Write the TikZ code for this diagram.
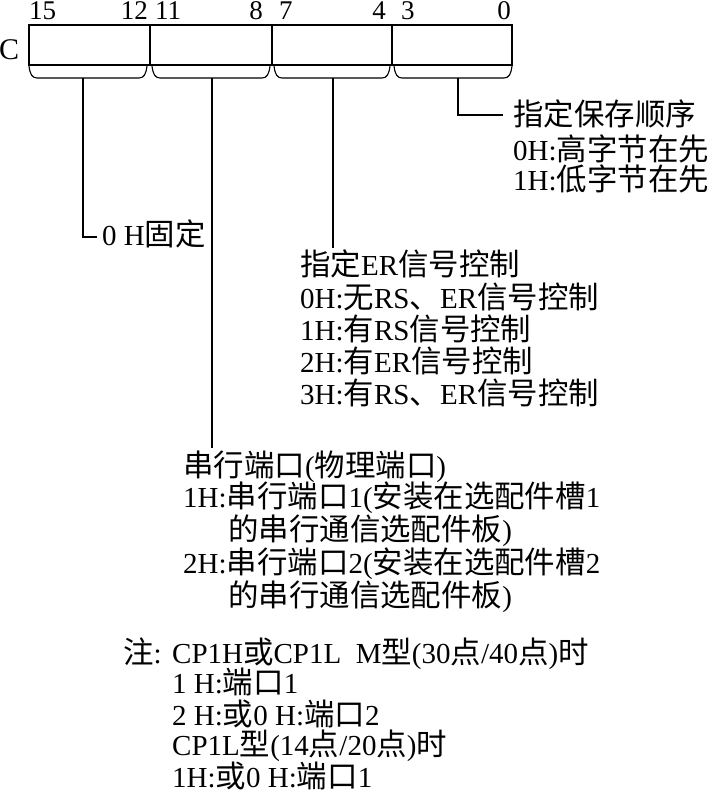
\documentclass[tikz,border=0pt]{standalone}
\usepackage{fontspec}
\setmainfont{Liberation Serif}
\newfontfamily\cjk[Scale=1.05]{Noto Sans CJK SC}
\newcommand\zh[1]{{\cjk #1}}
\usetikzlibrary{calc}
\begin{document}
\begin{tikzpicture}[x=1pt,y=-1pt,
  txt/.style={anchor=base west,inner sep=0pt,font=\fontsize{29}{30}\selectfont},
  bitl/.style={inner sep=0pt,font=\fontsize{27}{27}\selectfont},
  field/.style={draw,line width=1.2pt,minimum height=40pt,inner sep=0pt,outer sep=0pt},
  conn/.style={line width=1.1pt},
  bracepath/.style={line width=1.1pt}]
\useasboundingbox (0,0) rectangle (708,799);

% register fields
\node[field,minimum width=121pt] (f1) at (89.5,45) {};
\node[field,minimum width=122pt] (f2) at (211,45) {};
\node[field,minimum width=120pt] (f3) at (332,45) {};
\node[field,minimum width=120pt] (f4) at (452,45) {};
\node[anchor=base west,inner sep=0pt,font=\fontsize{30}{30}\selectfont] (c) at (-1,60) {C};

% bit numbers
\node[bitl,anchor=base west] (n15) at (29,20) {15};
\node[bitl,anchor=base east] (n12) at (148,20) {12};
\node[bitl,anchor=base west] (n11) at (155,20) {11};
\node[bitl,anchor=base east] (n8) at (263,20) {8};
\node[bitl,anchor=base west] (n7) at (279,20) {7};
\node[bitl,anchor=base east] (n4) at (386,20) {4};
\node[bitl,anchor=base west] (n3) at (401,20) {3};
\node[bitl,anchor=base east] (n0) at (511,20) {0};

% braces
\foreach \xa/\xb in {29/147,152/270,274/390,394/512}{
  \draw[bracepath] (\xa,66) .. controls (\xa+1,74) and (\xa+3,78) .. (\xa+8,78)
    -- (\xb-8,78) .. controls (\xb-3,78) and (\xb-1,74) .. (\xb,66);
}
\coordinate (b1) at (83,78);
\coordinate (b2) at (212,78);
\coordinate (b3) at (333,78);
\coordinate (b4) at (458,78);

% block A
\node[txt] (a1) at (513,126) {\zh{指定保存顺序}};
\node[txt] (a2) at (513,161) {0H:\zh{高字节在先}};
\node[txt] (a3) at (513,191) {1H:\zh{低字节在先}};

% fixed
\node[txt] (z) at (102,246) {0~H\zh{固定}};

% block B
\node[txt] (b1t) at (300,276) {\zh{指定}ER\zh{信号控制}};
\node[txt] (b2t) at (300,308) {0H:\zh{无}RS\zh{、}ER\zh{信号控制}};
\node[txt] (b3t) at (300,340) {1H:\zh{有}RS\zh{信号控制}};
\node[txt] (b4t) at (300,372) {2H:\zh{有}ER\zh{信号控制}};
\node[txt] (b5t) at (300,404) {3H:\zh{有}RS\zh{、}ER\zh{信号控制}};

% block C
\node[txt] (c1t) at (183,476) {\zh{串行端口}(\zh{物理端口})};
\node[txt] (c2t) at (183,507) {1H:\zh{串行端口}1(\zh{安装在选配件槽}1};
\node[txt] (c3t) at (228,540) {\zh{的串行通信选配件板})};
\node[txt] (c4t) at (183,573) {2H:\zh{串行端口}2(\zh{安装在选配件槽}2};
\node[txt] (c5t) at (228,606) {\zh{的串行通信选配件板})};

% block D (note)
\node[txt] (d0) at (123,663) {\zh{注}:};
\node[txt] (d1) at (172,663) {CP1H\zh{或}CP1L~~M\zh{型}(30\zh{点}/40\zh{点})\zh{时}};
\node[txt] (d2) at (172,693) {1~H:\zh{端口}1};
\node[txt] (d3) at (172,725) {2~H:\zh{或}0~H:\zh{端口}2};
\node[txt] (d4) at (172,755) {CP1L\zh{型}(14\zh{点}/20\zh{点})\zh{时}};
\node[txt] (d5) at (172,787) {1H:\zh{或}0~H:\zh{端口}1};

% connectors
\draw[conn] (b1) |- ($(z.base west)+(-5,-9)$);
\draw[conn] (b2) -- ($(b2 |- c1t.base)+(0,-28)$);
\draw[conn] (b3) -- ($(b3 |- b1t.base)+(0,-28)$);
\draw[conn] (b4) |- ($(a1.base west)+(-10,-11)$);
\end{tikzpicture}
\end{document}
